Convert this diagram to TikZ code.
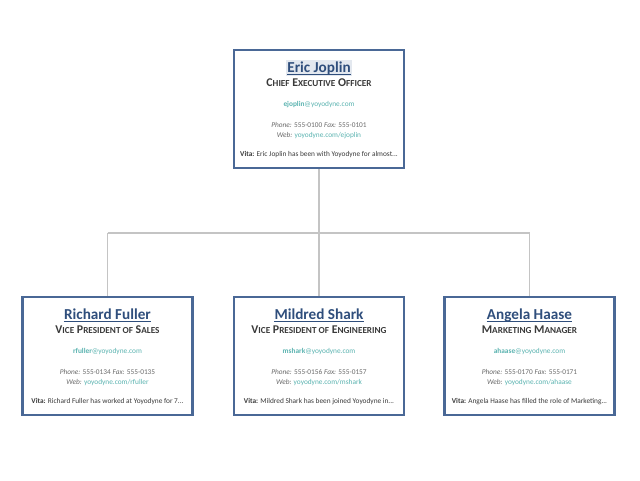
\documentclass[tikz,border=0pt]{standalone}
\usepackage{fontspec}
\setmainfont{Carlito}
\definecolor{boxblue}{HTML}{4A6896}
\definecolor{namecol}{HTML}{2F4E7C}
\definecolor{titlecol}{HTML}{3A3A3A}
\definecolor{teal}{HTML}{5AB3B0}
\definecolor{graytxt}{HTML}{6A6A6A}
\definecolor{linkgray}{HTML}{C4C4C4}
\definecolor{hilite}{HTML}{E3E8EF}
\newcommand{\scs}[1]{{\fontsize{6.9}{8}\selectfont #1}}
\tikzset{
  card/.style={draw=boxblue, line width=1.6pt, fill=white, minimum width=127.5pt, minimum height=88.5pt, inner sep=0pt},
  nametxt/.style={anchor=base, text=namecol, font=\bfseries\fontsize{11.4}{13}\selectfont, inner sep=1.2pt},
  titletxt/.style={anchor=base, text=titlecol, font=\bfseries\fontsize{8.9}{10}\selectfont, inner sep=0pt},
  smalltxt/.style={anchor=base, text=graytxt, font=\fontsize{5.5}{6.5}\selectfont, inner sep=0pt},
  conn/.style={draw=linkgray, line width=1.3pt},
  uline/.style={draw=namecol, line width=0.6pt},
  ceo-hl/.style={fill=hilite},
  sales-hl/.style={},
  eng-hl/.style={},
  mkt-hl/.style={},
}
\newcommand{\orgcard}[9]{%
  \node[card] (#1) at (#2,#3) {};
  \node[nametxt, #1-hl] (#1-name) at ([yshift=-17.5pt]#1.north) {#4};
  \draw[uline] ([yshift=-1.9pt,xshift=1.2pt]#1-name.base west) -- ([yshift=-1.9pt,xshift=-1.2pt]#1-name.base east);
  \node[titletxt] (#1-title) at ([yshift=-28.3pt]#1.north) {#5};
  \node[smalltxt] (#1-mail) at ([yshift=-43.5pt]#1.north) {\textcolor{teal}{\textbf{#6}@yoyodyne.com}};
  \node[smalltxt] (#1-phone) at ([yshift=-59pt]#1.north) {\textit{Phone:} 555-#7 \textit{Fax:} 555-#8};
  \node[smalltxt] (#1-web) at ([yshift=-66.7pt]#1.north) {\textit{Web:} \textcolor{teal}{yoyodyne.com/#6}};
  \node[smalltxt] (#1-vita) at ([yshift=-81pt]#1.north) {\textcolor{titlecol}{\textbf{Vita:} #9}};
}
\begin{document}
\begin{tikzpicture}[x=0.75pt,y=-0.75pt]
\useasboundingbox[fill=white] (0,0) rectangle (640,480);
\orgcard{ceo}{319}{109}{Eric Joplin}{C\scs{HIEF} E\scs{XECUTIVE} O\scs{FFICER}}{ejoplin}{0100}{0101}{Eric Joplin has been with Yoyodyne for almost...}
\orgcard{sales}{107.5}{356}{Richard Fuller}{V\scs{ICE} P\scs{RESIDENT OF} S\scs{ALES}}{rfuller}{0134}{0135}{Richard Fuller has worked at Yoyodyne for 7...}
\orgcard{eng}{319}{356}{Mildred Shark}{V\scs{ICE} P\scs{RESIDENT OF} E\scs{NGINEERING}}{mshark}{0156}{0157}{Mildred Shark has been joined Yoyodyne in...}
\orgcard{mkt}{529.5}{356}{Angela Haase}{M\scs{ARKETING} M\scs{ANAGER}}{ahaase}{0170}{0171}{Angela Haase has filled the role of Marketing...}
\coordinate (bus) at (319,233);
\coordinate (busL) at (107.5,233);
\coordinate (busR) at (529.5,233);
\draw[conn] (ceo.south) -- (bus);
\draw[conn] (busL) -- (busR);
\draw[conn] (busL) -- (sales.north);
\draw[conn] (bus) -- (eng.north);
\draw[conn] (busR) -- (mkt.north);
\end{tikzpicture}
\end{document}
